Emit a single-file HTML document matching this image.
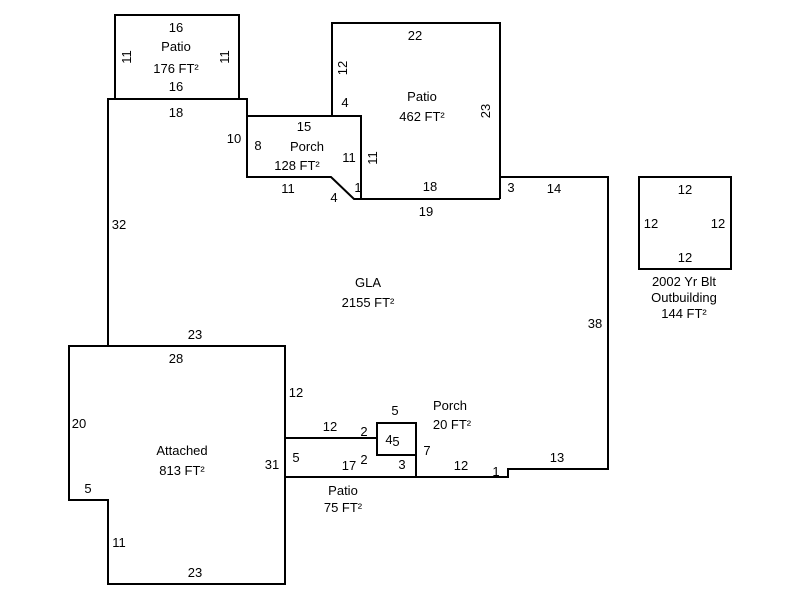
<!DOCTYPE html>
<html><head><meta charset="utf-8"><style>
html,body{margin:0;padding:0;background:#fff;}
svg{display:block;}
text{font-family:"Liberation Sans",Arial,sans-serif;font-size:13px;fill:#000;}
</style></head><body>
<svg width="800" height="600" viewBox="0 0 800 600" xmlns="http://www.w3.org/2000/svg">
<g fill="none" stroke="#000" stroke-width="2">
<rect x="115" y="15" width="124" height="84"/>
<polyline points="332,116 332,23 500,23 500,199"/>
<polygon points="247,116 361,116 361,199 354,199 331,177 247,177"/>
<polyline points="108,346 108,99 247,99 247,116"/>
<polyline points="500,177 608,177 608,469 508,469 508,477 286,477"/>
<line x1="354" y1="199" x2="500" y2="199"/>
<polygon points="69,346 285,346 285,584 108,584 108,500 69,500"/>
<rect x="377" y="423" width="39" height="32"/>
<line x1="285" y1="438" x2="377" y2="438"/>
<line x1="416" y1="455" x2="416" y2="477"/>
<rect x="639" y="177" width="92" height="92"/>
</g>
<g text-anchor="middle">
<text x="176" y="32">16</text><text x="176" y="51">Patio</text><text x="176" y="73">176 FT²</text><text x="176" y="91">16</text>
<text transform="translate(131,57) rotate(-90)">11</text>
<text transform="translate(229,57) rotate(-90)">11</text>
<text x="176" y="117">18</text>
<text x="415" y="40">22</text>
<text transform="translate(347,68) rotate(-90)">12</text>
<text x="345" y="107">4</text>
<text x="422" y="101">Patio</text><text x="422" y="121">462 FT²</text>
<text transform="translate(490,111) rotate(-90)">23</text>
<text x="304" y="131">15</text><text x="258" y="150">8</text><text x="307" y="151">Porch</text><text x="297" y="170">128 FT²</text>
<text x="349" y="162">11</text>
<text transform="translate(377,158) rotate(-90)">11</text>
<text x="234" y="143">10</text>
<text x="288" y="193">11</text><text x="334" y="202">4</text><text x="358" y="192">1</text>
<text x="430" y="191">18</text><text x="426" y="216">19</text>
<text x="511" y="192">3</text><text x="554" y="193">14</text>
<text x="119" y="229">32</text>
<text x="368" y="287">GLA</text><text x="368" y="307">2155 FT²</text>
<text x="595" y="328">38</text>
<text x="195" y="339">23</text><text x="176" y="363">28</text>
<text x="296" y="397">12</text>
<text x="79" y="428">20</text>
<text x="182" y="455">Attached</text><text x="182" y="475">813 FT²</text>
<text x="272" y="469">31</text><text x="296" y="462">5</text>
<text x="88" y="493">5</text><text x="119" y="547">11</text><text x="195" y="577">23</text>
<text x="330" y="431">12</text><text x="364" y="436">2</text><text x="364" y="464">2</text>
<text x="395" y="415">5</text><text x="389" y="444">4</text><text x="396" y="446">5</text>
<text x="427" y="455">7</text><text x="402" y="469">3</text><text x="349" y="470">17</text>
<text x="450" y="410">Porch</text><text x="452" y="429">20 FT²</text>
<text x="461" y="470">12</text><text x="496" y="476">1</text><text x="557" y="462">13</text>
<text x="343" y="495">Patio</text><text x="343" y="512">75 FT²</text>
<text x="685" y="194">12</text><text x="651" y="228">12</text><text x="718" y="228">12</text><text x="685" y="262">12</text>
<text x="684" y="286">2002 Yr Blt</text><text x="684" y="302">Outbuilding</text><text x="684" y="318">144 FT²</text>
</g>
</svg>
</body></html>
